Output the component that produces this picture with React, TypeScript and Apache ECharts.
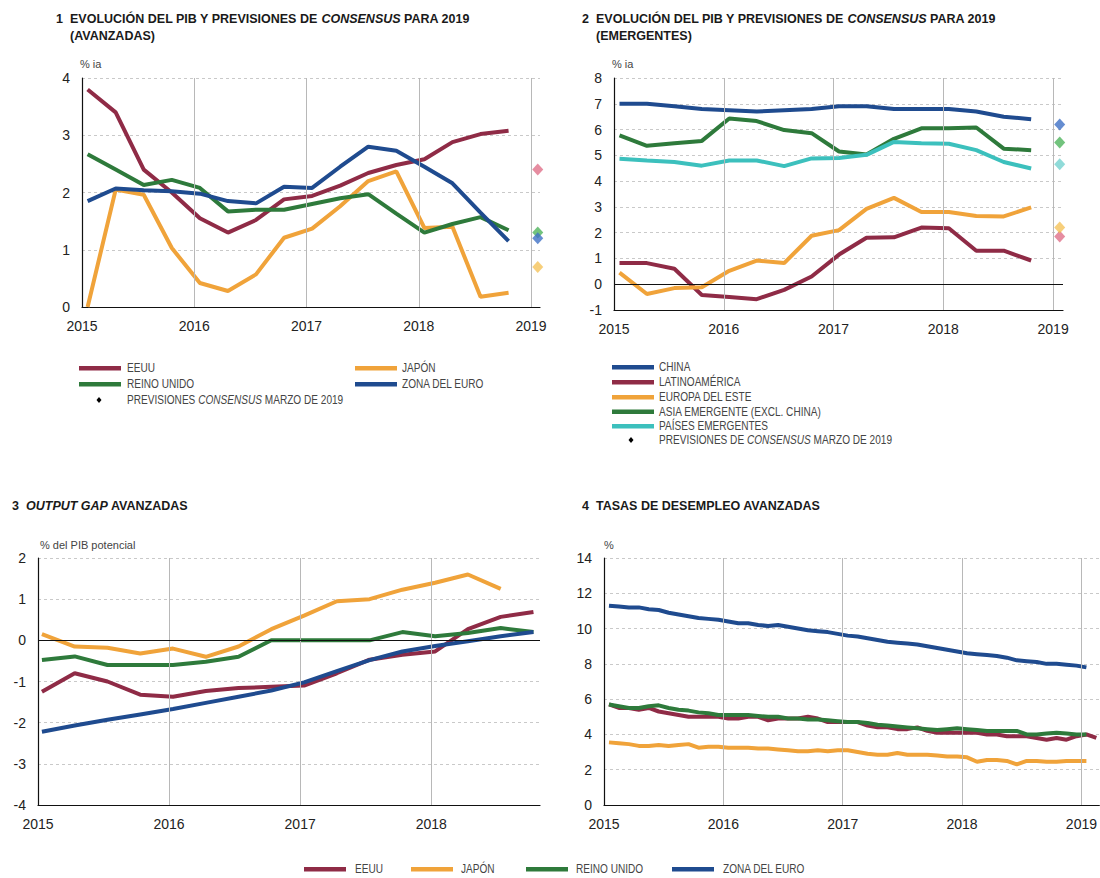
import React, { useEffect, useRef } from "react";
import * as echarts from "echarts";

// ---------- DATA ----------
const YEAR_TICKS = [2016, 2017, 2018, 2019];

// Panel 1: GDP advanced economies (% y-o-y), quarterly 2015Q1–2018Q4
const P1_EEUU = [3.8, 3.4, 2.4, 2.0, 1.55, 1.3, 1.52, 1.88, 1.94, 2.12, 2.34, 2.48, 2.58, 2.88, 3.02, 3.08];
const P1_JAPON = [0.0, 2.05, 1.96, 1.03, 0.42, 0.28, 0.57, 1.21, 1.37, 1.76, 2.2, 2.37, 1.38, 1.4, 0.18, 0.25];
const P1_REINO_UNIDO = [2.67, 2.4, 2.13, 2.22, 2.08, 1.67, 1.7, 1.7, 1.8, 1.9, 1.97, 1.63, 1.3, 1.45, 1.57, 1.34];
const P1_ZONA_EURO = [1.85, 2.07, 2.04, 2.02, 1.98, 1.85, 1.81, 2.1, 2.08, 2.45, 2.8, 2.73, 2.45, 2.16, 1.65, 1.15];
// Consensus forecasts 2019: EEUU, Japón, Reino Unido, Zona del euro
const P1_CONSENSUS = [2.4, 0.7, 1.3, 1.2];

// Panel 2: GDP emerging economies
const P2_CHINA = [7.0, 7.0, 6.9, 6.8, 6.75, 6.7, 6.75, 6.8, 6.9, 6.9, 6.8, 6.8, 6.8, 6.7, 6.5, 6.4];
const P2_LATAM = [0.82, 0.82, 0.6, -0.42, -0.5, -0.58, -0.22, 0.3, 1.15, 1.8, 1.82, 2.2, 2.17, 1.3, 1.3, 0.92];
const P2_EUROPA_ESTE = [0.45, -0.38, -0.15, -0.12, 0.52, 0.92, 0.82, 1.88, 2.1, 2.92, 3.35, 2.8, 2.8, 2.65, 2.63, 2.98];
const P2_ASIA = [5.77, 5.37, 5.47, 5.56, 6.43, 6.33, 5.98, 5.86, 5.15, 5.03, 5.64, 6.05, 6.05, 6.08, 5.26, 5.2];
const P2_EMERGENTES = [4.87, 4.8, 4.74, 4.6, 4.8, 4.8, 4.58, 4.88, 4.9, 5.02, 5.52, 5.47, 5.45, 5.2, 4.74, 4.49];
// Consensus 2019: China, Latinoamérica, Europa del Este, Asia emergente, Países emergentes
const P2_CONSENSUS = [6.2, 1.85, 2.2, 5.5, 4.65];

// Panel 3: output gap (% of potential GDP)
const P3_EEUU = [-1.25, -0.8, -1.0, -1.32, -1.37, -1.23, -1.16, -1.13, -1.1, -0.8, -0.47, -0.35, -0.27, 0.27, 0.57, 0.69];
const P3_JAPON = [0.15, -0.15, -0.18, -0.32, -0.2, -0.4, -0.15, 0.27, 0.6, 0.95, 1.0, 1.23, 1.4, 1.6, 1.25];
const P3_REINO_UNIDO = [-0.48, -0.39, -0.6, -0.6, -0.6, -0.52, -0.4, 0, 0, 0, 0, 0.2, 0.1, 0.18, 0.3, 0.2];
const P3_ZONA_EURO = [-2.22, -2.07, -1.93, -1.8, -1.67, -1.52, -1.37, -1.22, -1.02, -0.75, -0.48, -0.27, -0.14, -0.02, 0.1, 0.2];

// Panel 4: unemployment rates (%), monthly Jan 2015 – Jan/Feb 2019
const P4_EEUU = [
  5.7, 5.5, 5.5, 5.4, 5.5, 5.3, 5.2, 5.1, 5.0, 5.0, 5.0, 5.0,
  4.9, 4.9, 5.0, 5.0, 4.8, 4.9, 4.9, 4.9, 5.0, 4.9, 4.7, 4.7,
  4.7, 4.7, 4.5, 4.4, 4.4, 4.3, 4.3, 4.4, 4.2, 4.1, 4.1, 4.1,
  4.1, 4.1, 4.0, 4.0, 3.9, 3.9, 3.9, 3.8, 3.7, 3.8, 3.7, 3.9,
  4.0, 3.8,
];
const P4_JAPON = [
  3.55, 3.5, 3.45, 3.35, 3.35, 3.4, 3.35, 3.4, 3.45, 3.25, 3.3, 3.3,
  3.25, 3.25, 3.25, 3.2, 3.2, 3.15, 3.1, 3.05, 3.05, 3.1, 3.05, 3.1,
  3.1, 3.0, 2.9, 2.85, 2.85, 2.95, 2.85, 2.85, 2.85, 2.8, 2.75, 2.75,
  2.7, 2.45, 2.55, 2.55, 2.5, 2.3, 2.5, 2.5, 2.45, 2.45, 2.5, 2.5,
  2.5,
];
const P4_REINO_UNIDO = [
  5.7, 5.6, 5.5, 5.5, 5.6, 5.65, 5.5, 5.4, 5.35, 5.25, 5.2, 5.1,
  5.1, 5.1, 5.1, 5.05, 5.0, 5.0, 4.9, 4.9, 4.85, 4.85, 4.8, 4.75,
  4.7, 4.7, 4.65, 4.55, 4.5, 4.45, 4.4, 4.35, 4.3, 4.25, 4.3, 4.35,
  4.3, 4.25, 4.2, 4.2, 4.2, 4.2, 4.0, 4.0, 4.05, 4.1, 4.05, 4.0,
  4.0,
];
const P4_ZONA_EURO = [
  11.3, 11.25, 11.2, 11.2, 11.1, 11.05, 10.9, 10.8, 10.7, 10.6, 10.55, 10.5,
  10.4, 10.3, 10.3, 10.2, 10.15, 10.2, 10.1, 10.0, 9.9, 9.85, 9.8, 9.7,
  9.6, 9.55, 9.45, 9.35, 9.25, 9.2, 9.15, 9.1, 9.0, 8.9, 8.8, 8.7,
  8.6, 8.55, 8.5, 8.45, 8.35, 8.2, 8.15, 8.1, 8.0, 8.0, 7.95, 7.9,
  7.8,
];

// ---------- STYLE ----------
const FONT = '"Liberation Sans", Arial, Helvetica, sans-serif';
const C_RED = "#8f2b46";
const C_ORANGE = "#f0a33a";
const C_GREEN = "#2e7a3b";
const C_BLUE = "#1f4b8f";
const C_TEAL = "#3cc0bd";
const D_RED = "#e0708a";
const D_ORANGE = "#f5c35a";
const D_GREEN = "#4fb45c";
const D_BLUE = "#3f70c6";
const D_TEAL = "#74d2d0";

const FORECAST_X = 2019.06;

const quarterly = (vals: number[], start: number) => vals.map((v, i) => [start + i * 0.25, v]);
const monthly = (vals: number[]) => vals.map((v, i) => [2015 + (i + 0.5) / 12, v]);

function lineSeries(name: string, idx: number, data: number[][], color: string) {
  return {
    type: "line",
    name,
    xAxisIndex: idx,
    yAxisIndex: idx,
    data,
    symbol: "none",
    z: 3,
    lineStyle: { color, width: 4 },
    itemStyle: { color },
  };
}

function guideSeries(idx: number, years: number[], zero: boolean) {
  const lines: any[] = years.map((y) => ({ xAxis: y, lineStyle: { color: "#b8b8b8", width: 1, type: "solid" } }));
  if (zero) lines.push({ yAxis: 0, lineStyle: { color: "#111", width: 1, type: "solid" } });
  return {
    type: "line",
    name: "guide" + idx,
    xAxisIndex: idx,
    yAxisIndex: idx,
    data: [[2015.5, 0]],
    symbol: "none",
    lineStyle: { opacity: 0 },
    z: 1,
    silent: true,
    markLine: { silent: true, symbol: ["none", "none"], label: { show: false }, data: lines, animation: false },
  };
}

function forecastSeries(idx: number, values: number[], colors: string[]) {
  return {
    type: "scatter",
    name: "cons" + idx,
    xAxisIndex: idx,
    yAxisIndex: idx,
    symbol: "diamond",
    symbolSize: [11, 12],
    z: 4,
    data: values.map((v, i) => ({ value: [FORECAST_X, v], itemStyle: { color: colors[i] } })),
  };
}

function xAxis(idx: number, max: number) {
  return {
    type: "value",
    gridIndex: idx,
    min: 2015,
    max,
    interval: 1,
    axisLine: { show: true, onZero: false, lineStyle: { color: "#111", width: 1.2 } },
    axisTick: { show: false },
    splitLine: { show: false },
    axisLabel: {
      color: "#222",
      fontSize: 14,
      fontFamily: FONT,
      margin: 12,
      showMaxLabel: false,
      formatter: (v: number) => (Math.abs(v - Math.round(v)) < 1e-6 ? String(Math.round(v)) : ""),
    },
  };
}

function yAxis(idx: number, min: number, max: number, interval: number) {
  return {
    type: "value",
    gridIndex: idx,
    min,
    max,
    interval,
    axisLine: { show: true, lineStyle: { color: "#111", width: 1.2 } },
    axisTick: { show: false },
    axisLabel: { color: "#222", fontSize: 14, fontFamily: FONT, margin: 12 },
    splitLine: { show: true, lineStyle: { color: "#c9c9c9", type: [3, 3], width: 1 } },
  };
}

function titleBlock(numX: number, textX: number, top: number, rich: string) {
  const base = { fill: "#1a1a1a", fontSize: 12.5, fontWeight: "bold", fontFamily: FONT, lineHeight: 17 };
  return [
    { type: "text", left: numX, top, style: { text: rich.split("|")[0], ...base } },
    {
      type: "text",
      left: textX,
      top,
      style: {
        text: rich.split("|").slice(1).join("|"),
        ...base,
        rich: {
          b: { ...base },
          i: { ...base, fontStyle: "italic" },
        },
      },
    },
  ];
}

function unitText(x: number, y: number, text: string) {
  return { type: "text", left: x, top: y - 7, style: { text, fill: "#444", fontSize: 11, fontFamily: FONT } };
}

const LEG_SIZE = 12;
const LEG_SCALE = 0.84;

function legendLine(x: number, y: number, color: string, label: string, textX: number) {
  return [
    { type: "rect", shape: { x, y: y - 2, width: 42, height: 4.5 }, style: { fill: color } },
    {
      type: "text",
      x: textX,
      y,
      scaleX: LEG_SCALE,
      style: { text: label, fill: "#444", fontSize: LEG_SIZE, fontFamily: FONT, verticalAlign: "middle" },
    },
  ];
}

function legendDot(x: number, y: number, textX: number, pre: string) {
  const base = { fill: "#444", fontSize: LEG_SIZE, fontFamily: FONT };
  return [
    { type: "polygon", shape: { points: [[x, y - 3], [x + 2.5, y], [x, y + 3], [x - 2.5, y]] }, style: { fill: "#000" } },
    {
      type: "text",
      x: textX,
      y,
      scaleX: LEG_SCALE,
      style: {
        text: `{n|${pre}}{i|CONSENSUS}{n| MARZO DE 2019}`,
        ...base,
        verticalAlign: "middle",
        rich: { n: { ...base }, i: { ...base, fontStyle: "italic" } },
      },
    },
  ];
}

export default function App() {
  const ref = useRef<HTMLDivElement>(null);

  useEffect(() => {
    if (!ref.current) return;
    const chart = echarts.init(ref.current, undefined, { renderer: "svg" });

    const graphic: any[] = [
      ...titleBlock(56, 70, 10, "1|{b|EVOLUCIÓN DEL PIB Y PREVISIONES DE }{i|CONSENSUS}{b| PARA 2019}\n{b|(AVANZADAS)}"),
      ...titleBlock(582, 596, 10, "2|{b|EVOLUCIÓN DEL PIB Y PREVISIONES DE }{i|CONSENSUS}{b| PARA 2019}\n{b|(EMERGENTES)}"),
      ...titleBlock(12, 26, 497, "3|{i|OUTPUT GAP}{b| AVANZADAS}"),
      ...titleBlock(582, 596, 497, "4|{b|TASAS DE DESEMPLEO AVANZADAS}"),
      unitText(80, 65, "% ia"),
      unitText(612, 65, "% ia"),
      unitText(40, 546, "% del PIB potencial"),
      unitText(604, 546, "%"),
      // legend panel 1
      ...legendLine(79, 368, C_RED, "EEUU", 127),
      ...legendLine(79, 384, C_GREEN, "REINO UNIDO", 127),
      ...legendDot(99, 400, 127, "PREVISIONES "),
      ...legendLine(355, 368, C_ORANGE, "JAPÓN", 402),
      ...legendLine(355, 384, C_BLUE, "ZONA DEL EURO", 402),
      // legend panel 2
      ...legendLine(612, 367, C_BLUE, "CHINA", 659),
      ...legendLine(612, 382, C_RED, "LATINOAMÉRICA", 659),
      ...legendLine(612, 397, C_ORANGE, "EUROPA DEL ESTE", 659),
      ...legendLine(612, 411.5, C_GREEN, "ASIA EMERGENTE (EXCL. CHINA)", 659),
      ...legendLine(612, 426, C_TEAL, "PAÍSES EMERGENTES", 659),
      ...legendDot(631, 440, 659, "PREVISIONES DE "),
      // bottom legend
      ...legendLine(304, 869, C_RED, "EEUU", 355),
      ...legendLine(411, 869, C_ORANGE, "JAPÓN", 461),
      ...legendLine(526, 869, C_GREEN, "REINO UNIDO", 576),
      ...legendLine(672, 869, C_BLUE, "ZONA DEL EURO", 723),
    ];

    const option: any = {
      animation: false,
      backgroundColor: "#ffffff",
      grid: [
        { left: 82, top: 78, width: 458, height: 229 },
        { left: 614, top: 78, width: 449, height: 232 },
        { left: 38, top: 558, width: 502, height: 247 },
        { left: 604, top: 558, width: 496, height: 247 },
      ],
      xAxis: [xAxis(0, 2019.08), xAxis(1, 2019.09), xAxis(2, 2018.83), xAxis(3, 2019.15)],
      yAxis: [yAxis(0, 0, 4, 1), yAxis(1, -1, 8, 1), yAxis(2, -4, 2, 1), yAxis(3, 0, 14, 2)],
      graphic,
      series: [
        guideSeries(0, YEAR_TICKS, false),
        guideSeries(1, YEAR_TICKS, true),
        guideSeries(2, [2016, 2017, 2018], true),
        guideSeries(3, YEAR_TICKS, false),
        // panel 1
        lineSeries("EEUU", 0, quarterly(P1_EEUU, 2015.05), C_RED),
        lineSeries("JAPÓN", 0, quarterly(P1_JAPON, 2015.05), C_ORANGE),
        lineSeries("REINO UNIDO", 0, quarterly(P1_REINO_UNIDO, 2015.05), C_GREEN),
        lineSeries("ZONA DEL EURO", 0, quarterly(P1_ZONA_EURO, 2015.05), C_BLUE),
        forecastSeries(0, P1_CONSENSUS, [D_RED, D_ORANGE, D_GREEN, D_BLUE]),
        // panel 2
        lineSeries("CHINA", 1, quarterly(P2_CHINA, 2015.05), C_BLUE),
        lineSeries("LATINOAMÉRICA", 1, quarterly(P2_LATAM, 2015.05), C_RED),
        lineSeries("EUROPA DEL ESTE", 1, quarterly(P2_EUROPA_ESTE, 2015.05), C_ORANGE),
        lineSeries("ASIA EMERGENTE (EXCL. CHINA)", 1, quarterly(P2_ASIA, 2015.05), C_GREEN),
        lineSeries("PAÍSES EMERGENTES", 1, quarterly(P2_EMERGENTES, 2015.05), C_TEAL),
        forecastSeries(1, P2_CONSENSUS, [D_BLUE, D_RED, D_ORANGE, D_GREEN, D_TEAL]),
        // panel 3
        lineSeries("EEUU", 2, quarterly(P3_EEUU, 2015.03), C_RED),
        lineSeries("JAPÓN", 2, quarterly(P3_JAPON, 2015.03), C_ORANGE),
        lineSeries("REINO UNIDO", 2, quarterly(P3_REINO_UNIDO, 2015.03), C_GREEN),
        lineSeries("ZONA DEL EURO", 2, quarterly(P3_ZONA_EURO, 2015.03), C_BLUE),
        // panel 4
        lineSeries("EEUU", 3, monthly(P4_EEUU), C_RED),
        lineSeries("JAPÓN", 3, monthly(P4_JAPON), C_ORANGE),
        lineSeries("REINO UNIDO", 3, monthly(P4_REINO_UNIDO), C_GREEN),
        lineSeries("ZONA DEL EURO", 3, monthly(P4_ZONA_EURO), C_BLUE),
      ],
    };

    chart.setOption(option);
    return () => chart.dispose();
  }, []);

  return (
    <div
      ref={ref}
      style={{ position: "absolute", left: 0, top: 0, width: 1100, height: 878, background: "#fff" }}
    />
  );
}
